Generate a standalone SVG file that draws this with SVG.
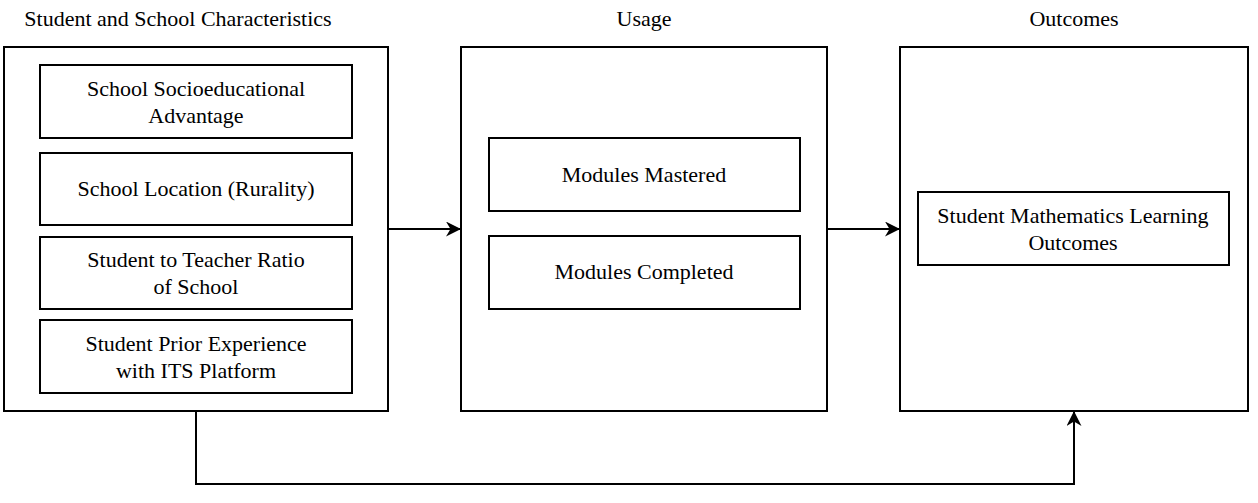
<svg xmlns="http://www.w3.org/2000/svg" width="1258" height="503" viewBox="0 0 1258 503">
<style>
.box{fill:#fff;stroke:#000;stroke-width:2}
.t{font-family:"Liberation Serif","Times New Roman",serif;font-size:22px;fill:#000;text-anchor:middle}
.h{font-family:"Liberation Serif","Times New Roman",serif;font-size:22px;fill:#000;text-anchor:middle}
.c{fill:none;stroke:#000;stroke-width:2}
</style>
<defs>
<marker id="arr" viewBox="0 0 10 10" refX="10" refY="5" markerWidth="15" markerHeight="15" markerUnits="userSpaceOnUse" orient="auto">
<path d="M0,0 L10,5 L0,10 L3,5 Z" fill="#000"/>
</marker>
</defs>
<rect width="1258" height="503" fill="#fff"/>
<g id="characteristics">
<text class="h" x="178" y="26">Student and School Characteristics</text>
<rect class="box" x="4" y="47" width="384" height="364"/>
</g>
<g id="ses">
<rect class="box" x="40" y="65" width="312" height="73"/>
<text class="t" x="196" y="96">School Socioeducational</text>
<text class="t" x="196" y="123">Advantage</text>
</g>
<g id="location">
<rect class="box" x="40" y="153" width="312" height="72"/>
<text class="t" x="196" y="196">School Location (Rurality)</text>
</g>
<g id="ratio">
<rect class="box" x="40" y="237" width="312" height="72"/>
<text class="t" x="196" y="267">Student to Teacher Ratio</text>
<text class="t" x="196" y="294">of School</text>
</g>
<g id="prior">
<rect class="box" x="40" y="320" width="312" height="73"/>
<text class="t" x="196" y="351">Student Prior Experience</text>
<text class="t" x="196" y="378">with ITS Platform</text>
</g>
<g id="usage">
<text class="h" x="644" y="26">Usage</text>
<rect class="box" x="461" y="47" width="366" height="364"/>
</g>
<g id="mastered">
<rect class="box" x="489" y="138" width="311" height="73"/>
<text class="t" x="644" y="182">Modules Mastered</text>
</g>
<g id="completed">
<rect class="box" x="489" y="236" width="311" height="73"/>
<text class="t" x="644" y="279">Modules Completed</text>
</g>
<g id="outcomes">
<text class="h" x="1074" y="26">Outcomes</text>
<rect class="box" x="900" y="47" width="348" height="364"/>
</g>
<g id="math">
<rect class="box" x="918" y="192" width="311" height="73"/>
<text class="t" x="1073" y="223">Student Mathematics Learning</text>
<text class="t" x="1073" y="250">Outcomes</text>
</g>
<g id="connectors">
<path class="c" d="M388,229 L461,229" marker-end="url(#arr)"/>
<path class="c" d="M827,229 L900,229" marker-end="url(#arr)"/>
<path class="c" d="M196,411 L196,484 L1074,484 L1074,411" marker-end="url(#arr)"/>
</g>
</svg>
